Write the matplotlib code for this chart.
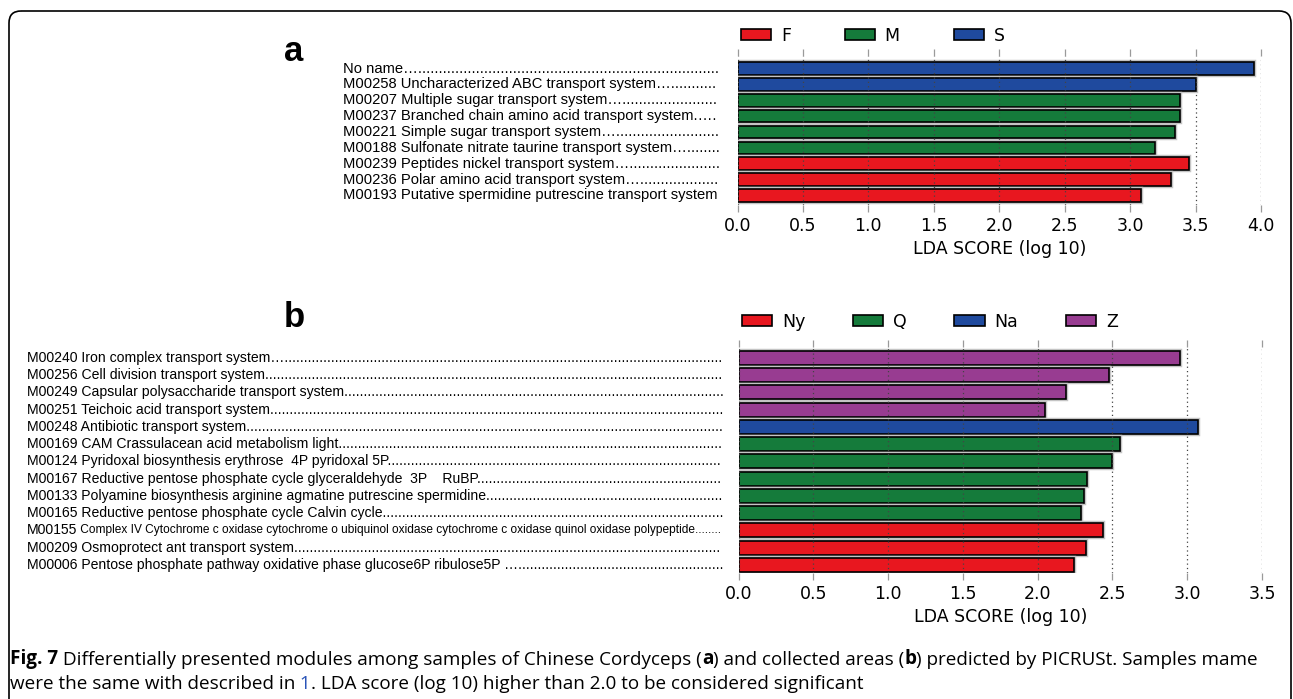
import numpy as np
import matplotlib
matplotlib.use("Agg")
import matplotlib.pyplot as plt
import matplotlib.patches as mpatches
import matplotlib.patheffects as pe
import matplotlib.transforms as mtransforms
from matplotlib import font_manager

# modules separating the sample types (F, M, S)
mods_a = ["No name…",
          "M00258 Uncharacterized ABC transport system…",
          "M00207 Multiple sugar transport system…",
          "M00237 Branched chain amino acid transport system.…",
          "M00221 Simple sugar transport system…",
          "M00188 Sulfonate nitrate taurine transport system…",
          "M00239 Peptides nickel transport system…",
          "M00236 Polar amino acid transport system…",
          "M00193 Putative spermidine putrescine transport system"]
lda_a = [3.95, 3.50, 3.38, 3.38, 3.34, 3.19, 3.45, 3.31, 3.08]
grp_a = ["S", "S", "M", "M", "M", "M", "F", "F", "F"]
classes_a = ["F", "M", "S"]

# modules separating the collection areas (Ny, Q, Na, Z)
mods_b = ["M00240 Iron complex transport system…",
          "M00256 Cell division transport system",
          "M00249 Capsular polysaccharide transport system",
          "M00251 Teichoic acid transport system",
          "M00248 Antibiotic transport system",
          "M00169 CAM Crassulacean acid metabolism light",
          "M00124 Pyridoxal biosynthesis erythrose  4P pyridoxal 5P",
          "M00167 Reductive pentose phosphate cycle glyceraldehyde  3P    RuBP",
          "M00133 Polyamine biosynthesis arginine agmatine putrescine spermidine",
          "M00165 Reductive pentose phosphate cycle Calvin cycle",
          "M00155 Complex IV Cytochrome c oxidase cytochrome o ubiquinol oxidase "
          "cytochrome c oxidase quinol oxidase polypeptide",
          "M00209 Osmoprotect ant transport system",
          "M00006 Pentose phosphate pathway oxidative phase glucose6P ribulose5P …"]
lda_b = [2.95, 2.48, 2.19, 2.05, 3.07, 2.55, 2.50, 2.33, 2.31, 2.29, 2.44, 2.32, 2.24]
grp_b = ["Z", "Z", "Z", "Z", "Na", "Q", "Q", "Q", "Q", "Q", "Ny", "Ny", "Ny"]
classes_b = ["Ny", "Q", "Na", "Z"]

red, green, blue, purple = "#e8171f", "#157b3b", "#1f4a9e", "#983c91"
colors = {"F": red, "M": green, "S": blue,
          "Ny": red, "Q": green, "Na": blue, "Z": purple}

have = {f.name for f in font_manager.fontManager.ttflist}
narrow = "Liberation Sans Narrow" if "Liberation Sans Narrow" in have else "Liberation Sans"
cap_font = "Open Sans" if "Open Sans" in have else "DejaVu Sans"

W, H = 1293, 699
fig = plt.figure(figsize=(W / 100, H / 100), dpi=100)
bg = fig.add_axes([0, 0, 1, 1])
bg.set_xlim(0, W)
bg.set_ylim(H, 0)
bg.axis("off")


def add_ax(x0, x1, top, bottom):
    return fig.add_axes([x0 / W, 1 - bottom / H, (x1 - x0) / W, (bottom - top) / H])


def draw_panel(ax, lda, grp, classes, xmax, ylim, leg_anchor, colsp):
    n = len(lda)
    ypos = np.arange(n)[::-1]
    bars = ax.barh(ypos, lda, height=0.8, color=[colors[g] for g in grp],
                   edgecolor="black", linewidth=1.2, zorder=1)
    for b in bars:
        b.set_path_effects([pe.Stroke(linewidth=3.2, foreground="#c4c4c4"), pe.Normal()])
    ax.set_xlim(0, xmax)
    ax.set_ylim(*ylim)
    ax.set_xticks(np.arange(0, xmax + 0.01, 0.5))
    ax.xaxis.set_major_formatter("{x:.1f}")
    ax.set_yticks([])
    for s in ax.spines.values():
        s.set_visible(False)
    ax.tick_params(axis="x", top=True, bottom=True, direction="out", length=5,
                   width=0.9, color="#9a9a9a", labelsize=12.5, pad=3.5)
    ax.xaxis.grid(True, linestyle=(0, (1, 2.5)), color="#444444", linewidth=0.9)
    ax.set_axisbelow(False)
    ax.set_xlabel("LDA SCORE (log 10)", fontsize=12.5, labelpad=4)
    handles = [mpatches.Patch(facecolor=colors[c], edgecolor="black", linewidth=1.2, label=c)
               for c in classes]
    ax.legend(handles=handles, ncol=len(classes), frameon=False, loc="lower left",
              bbox_to_anchor=leg_anchor, bbox_transform=fig.transFigure,
              borderpad=0, borderaxespad=0, fontsize=12.5, handlelength=1.75,
              handleheight=0.6, handletextpad=0.55, columnspacing=colsp)
    return ypos


renderer = fig.canvas.get_renderer()


def dot_fill(t, right):
    s = t.get_text()
    while t.get_window_extent(renderer).x1 < right:
        s += "."
        t.set_text(s)
        if len(s) > 400:
            break
    # drop the last dot if it overshoots
    if t.get_window_extent(renderer).x1 > right + 2:
        t.set_text(s[:-1])


def row_labels(ax, names, ypos, x_left, right, size, small=None):
    trans = mtransforms.blended_transform_factory(fig.transFigure, ax.transData)
    for name, y in zip(names, ypos):
        if small is not None and name.startswith("M00155"):
            head = ax.text(x_left / W, y, "M00155", transform=trans, fontsize=size,
                           family=narrow, va="center", ha="left")
            t = ax.annotate(" " + name[7:], xy=(1, 0), xycoords=head, fontsize=small,
                            family=narrow, va="bottom", ha="left",
                            xytext=(0, 1.2), textcoords="offset points")
        else:
            t = ax.text(x_left / W, y, name, transform=trans, fontsize=size,
                        family=narrow, va="center", ha="left")
        if not name.startswith("M00193"):
            dot_fill(t, right)


ax_a = add_ax(737.5, 1261, 56, 205)
ya = draw_panel(ax_a, lda_a, grp_a, classes_a, 4.0, (-0.6, 8.79),
                (741 / W, 1 - 45 / H), 3.1)
ax_b = add_ax(738.5, 1262, 347, 573)
yb = draw_panel(ax_b, lda_b, grp_b, classes_b, 3.5, (-0.47, 12.63),
                (742 / W, 1 - 331 / H), 2.75)

row_labels(ax_a, mods_a, ya, 343, 718, 10.6)
row_labels(ax_b, mods_b, yb, 27, 722, 10.1, small=8.6)

fig.text(294 / W, 1 - 61 / H, "a", fontsize=25, fontweight="bold",
         family="Liberation Sans", ha="center", va="baseline")
fig.text(294 / W, 1 - 327 / H, "b", fontsize=25, fontweight="bold",
         family="Liberation Sans", ha="center", va="baseline")

# rounded frame around the whole figure
frame = mpatches.FancyBboxPatch((9, 11), 1282, 720, boxstyle="round,pad=0,rounding_size=12",
                                facecolor="none", edgecolor="black", linewidth=1.2,
                                transform=bg.transData, clip_on=False)
bg.add_patch(frame)


def rich_line(x, y, parts, size):
    prev = bg.text(x, y, parts[0][0], fontsize=size, family=cap_font,
                   va="bottom", ha="left", **parts[0][1])
    for s, kw in parts[1:]:
        prev = bg.annotate(s, xy=(1, 0), xycoords=prev, fontsize=size, family=cap_font,
                           va="bottom", ha="left", **kw)


B = {"fontweight": "bold"}
R = {}
rich_line(10, 669, [("Fig. 7", B),
                    (" Differentially presented modules among samples of Chinese Cordyceps (", R),
                    ("a", B), (") and collected areas (", R), ("b", B),
                    (") predicted by PICRUSt. Samples mame", R)], 13.6)
rich_line(10, 693, [("were the same with described in", R), (" 1", {"color": "#2a54b8"}),
                    (". LDA score (log 10) higher than 2.0 to be considered significant", R)],
          13.6)

fig.savefig("out.png", dpi=100)
